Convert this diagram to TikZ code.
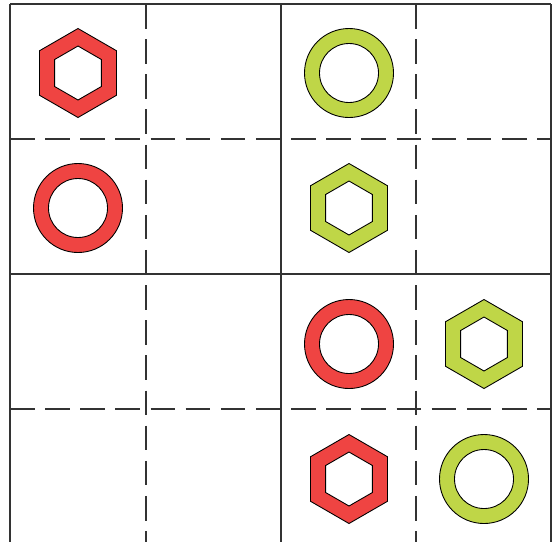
\documentclass[tikz,border=0pt]{standalone}
\usetikzlibrary{positioning}

\definecolor{nutred}{RGB}{239,68,66}
\definecolor{nutgreen}{RGB}{191,214,71}

\begin{document}
\begin{tikzpicture}[x=0.02cm, y=-0.02cm,
  grid/.style={black!80, line width=0.6pt},
  gridcut/.style={grid, dash pattern=on 14pt off 6pt},
  hexnut/.pic={
    \path[pic actions, even odd rule]
      (90:44.5) -- (150:44.5) -- (210:44.5) -- (270:44.5) -- (330:44.5) -- (30:44.5) -- cycle
      (90:27) -- (150:27) -- (210:27) -- (270:27) -- (330:27) -- (30:27) -- cycle;},
  ringnut/.pic={
    \path[pic actions, even odd rule] (0,0) circle (44.5) (0,0) circle (29.5);},
  r/.style={fill=nutred, draw=black, line width=0.5pt},
  g/.style={fill=nutgreen, draw=black, line width=0.5pt}]
  \useasboundingbox (0,0) rectangle (553,542);
  % cell centres
  \foreach \i/\x in {0/78, 1/213, 2/349, 3/484}
    \foreach \j/\y in {0/73, 1/208, 2/344, 3/479}
      \coordinate (c\i\j) at (\x,\y);
  % grid
  \foreach \x in {10, 281, 551}
    \draw[grid] (\x,4) -- (\x,542);
  \foreach \x in {146, 416}
    \draw[gridcut] (\x,4) -- (\x,542);
  \foreach \y in {4, 274}
    \draw[grid] (10,\y) -- (551,\y);
  \foreach \y in {139, 409}
    \draw[gridcut] (10,\y) -- (551,\y);
  % nuts
  \pic[r] at (c00) {hexnut};
  \pic[r] at (c01) {ringnut};
  \pic[g] at (c20) {ringnut};
  \pic[g] at (c21) {hexnut};
  \pic[r] at (c22) {ringnut};
  \pic[g] at (c32) {hexnut};
  \pic[r] at (c23) {hexnut};
  \pic[g] at (c33) {ringnut};
\end{tikzpicture}
\end{document}
